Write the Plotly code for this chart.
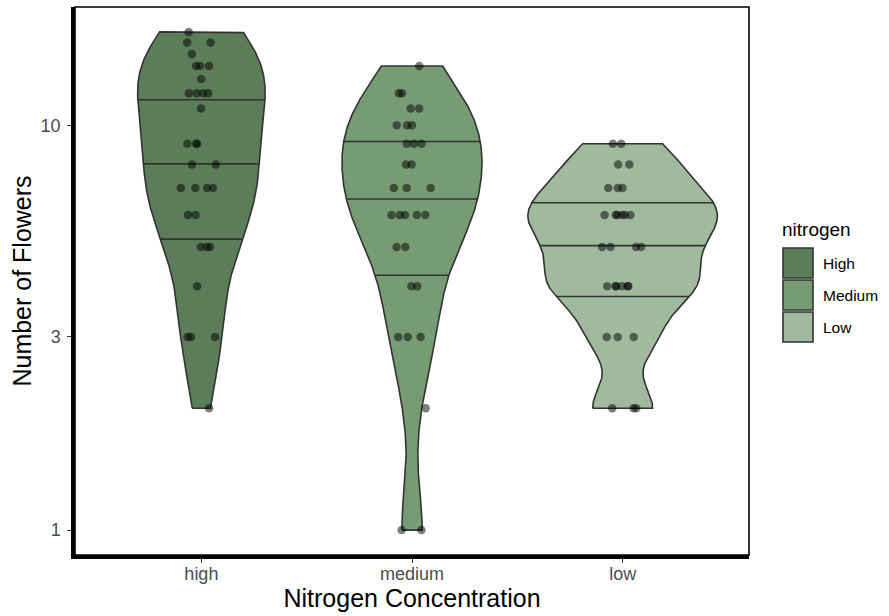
import numpy as np
import plotly.graph_objects as go

# ---- data ----
categories = ["high", "medium", "low"]
legend_labels = ["High", "Medium", "Low"]
fill_colors = ["#5B7D59", "#779C73", "#9FBA9C"]

high_vals = [17, 16, 16, 15, 14, 14, 14, 13, 12, 12, 12, 12, 11, 9, 9, 9, 8, 8,
             7, 7, 7, 7, 6, 6, 5, 5, 5, 4, 3, 3, 3, 2]
medium_vals = [14, 12, 12, 11, 11, 10, 10, 10, 9, 9, 9, 8, 8, 7, 7, 7, 6, 6, 6, 6, 6,
               5, 5, 4, 4, 3, 3, 3, 2, 1, 1]
low_vals = [9, 9, 8, 8, 7, 7, 7, 6, 6, 6, 6, 6, 6, 5, 5, 5, 5, 4, 4, 4, 4, 4, 4,
            3, 3, 3, 2, 2, 2]
groups = [high_vals, medium_vals, low_vals]

y_tick_vals = [1, 3, 10]


def bw_nrd0(x):
    x = np.asarray(x, float)
    sd = x.std(ddof=1)
    q75, q25 = np.percentile(x, [75, 25])
    lo = min(sd, (q75 - q25) / 1.34)
    if lo <= 0:
        lo = sd if sd > 0 else 1.0
    return 0.9 * lo * len(x) ** (-0.2)


def kde(vals, n=512):
    lv = np.log10(np.asarray(vals, float))
    bw = bw_nrd0(lv)
    grid = np.linspace(lv.min(), lv.max(), n)
    d = np.exp(-0.5 * ((grid[:, None] - lv[None, :]) / bw) ** 2).sum(axis=1)
    d /= (len(lv) * bw * np.sqrt(2 * np.pi))
    return grid, d


dens = [kde(g) for g in groups]
max_d = max(d.max() for _, d in dens)
half_w = 0.45

fig = go.Figure()
line_col = "#333333"

for i, (cat, (grid, d)) in enumerate(zip(categories, dens)):
    xc = i + 1
    w = d / max_d * half_w
    yy = 10 ** grid
    xs = np.concatenate([xc - w, (xc + w)[::-1], [xc - w[0]]])
    ys = np.concatenate([yy, yy[::-1], [yy[0]]])
    fig.add_trace(go.Scatter(x=xs, y=ys, mode="lines", fill="toself",
                             fillcolor=fill_colors[i],
                             line=dict(color=line_col, width=1.6),
                             showlegend=False, hoverinfo="skip"))
    # quantile lines (ggplot draw_quantiles style)
    cdf = np.cumsum(d) / d.sum()
    for q in [0.25, 0.5, 0.75]:
        gq = np.interp(q, cdf, grid)
        wq = np.interp(gq, grid, w)
        fig.add_trace(go.Scatter(x=[xc - wq, xc + wq], y=[10 ** gq, 10 ** gq],
                                 mode="lines", line=dict(color=line_col, width=1.6),
                                 showlegend=False, hoverinfo="skip"))

# jittered points using plotly's own box-point jitter, on an overlaid subplot
for i, g in enumerate(groups):
    fig.add_trace(go.Box(y=g, x0=i + 1, width=0.2, boxpoints="all", jitter=1,
                         pointpos=0, fillcolor="rgba(0,0,0,0)",
                         line=dict(color="rgba(0,0,0,0)", width=0),
                         marker=dict(color="rgba(0,0,0,0.5)", size=8.5,
                                     line=dict(width=0)),
                         showlegend=False, xaxis="x2", yaxis="y2"))

# y range: ggplot-like 5% expansion of log range
all_l = np.log10(np.concatenate([np.asarray(g, float) for g in groups]))
span = all_l.max() - all_l.min()
yr = [all_l.min() - 0.05 * span, all_l.max() + 0.05 * span]
xr = [0.4, 3.6]

fig.update_layout(
    width=889, height=616,
    margin=dict(l=75, r=140, t=7, b=61),
    paper_bgcolor="white", plot_bgcolor="white",
    font=dict(family="Liberation Sans, Arial, sans-serif", color="black"),
    boxmode="overlay",
    xaxis=dict(range=xr, tickvals=[1, 2, 3], ticktext=categories,
               showgrid=False, zeroline=False, showline=True, linecolor="black",
               linewidth=3.5, ticks="outside", ticklen=4, tickcolor="#333333",
               tickwidth=1, tickfont=dict(size=18, color="#4D4D4D"),
               ticklabelstandoff=-4,
               title=dict(text="Nitrogen Concentration", font=dict(size=25),
                          standoff=2)),
    yaxis=dict(type="log", range=yr, tickvals=y_tick_vals,
               ticktext=[str(v) for v in y_tick_vals],
               showgrid=False, zeroline=False, showline=True, linecolor="black",
               linewidth=3.5, ticks="outside", ticklen=4, tickcolor="#333333",
               tickwidth=1, tickfont=dict(size=18, color="#4D4D4D"),
               ticklabelstandoff=3,
               title=dict(text="Number of Flowers", font=dict(size=25),
                          standoff=3)),
    xaxis2=dict(overlaying="x", range=xr, visible=False),
    yaxis2=dict(overlaying="y", type="log", range=yr, visible=False),
    showlegend=False,
)

# panel border (top/right)
fig.add_shape(type="rect", xref="paper", yref="paper", x0=0, x1=1, y0=0, y1=1,
              line=dict(color="black", width=1.6), fillcolor="rgba(0,0,0,0)",
              layer="above")

# legend (drawn in paper coordinates)
ph = 616 - 7 - 61
pw = 889 - 75 - 140


def px_to_paper_x(px):
    return (px - 75) / pw


def px_to_paper_y(py):
    return (616 - 61 - py) / ph


fig.add_annotation(xref="paper", yref="paper", x=px_to_paper_x(780),
                   y=px_to_paper_y(229), text="nitrogen", showarrow=False,
                   xanchor="left", yanchor="middle", font=dict(size=19))
key_top = 247
key_h = 32
for i, lab in enumerate(legend_labels):
    y0 = key_top + i * key_h
    fig.add_shape(type="rect", xref="paper", yref="paper",
                  x0=px_to_paper_x(783), x1=px_to_paper_x(813),
                  y0=px_to_paper_y(y0 + 31), y1=px_to_paper_y(y0 + 1),
                  fillcolor=fill_colors[i], line=dict(color=line_col, width=1.6))
    fig.add_annotation(xref="paper", yref="paper", x=px_to_paper_x(821),
                       y=px_to_paper_y(y0 + 16), text=lab, showarrow=False,
                       xanchor="left", yanchor="middle", font=dict(size=15.5))

fig.write_html("out.html", config={"displayModeBar": False},
               post_script="document.body.style.margin='0';"
                           "document.body.style.overflow='hidden';")
